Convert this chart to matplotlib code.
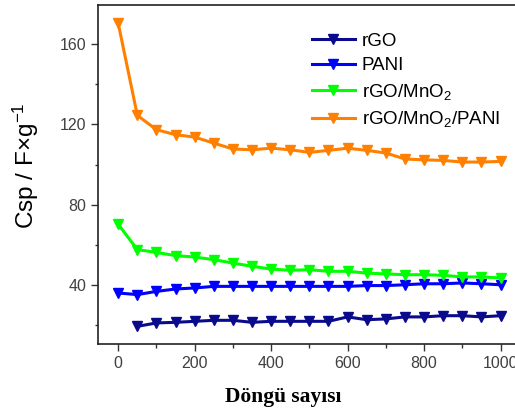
import numpy as np
import matplotlib
matplotlib.use("Agg")
import matplotlib.pyplot as plt
from matplotlib.ticker import MultipleLocator

plt.rcParams.update({'font.family': 'Liberation Sans', 'mathtext.fontset': 'custom',
                     'mathtext.rm': 'Liberation Sans', 'mathtext.it': 'Liberation Sans',
                     'mathtext.default': 'regular'})

# cycle number, every 50 cycles
cycles = list(range(0, 1001, 50))
rgo_cycles = cycles[1:]
rgo = [19.5, 21.2, 21.5, 22.0, 22.5, 22.5, 21.5, 22.0, 22.0, 22.0, 22.0,
       24.2, 22.8, 23.2, 24.2, 24.2, 24.8, 24.8, 24.2, 24.8]
pani = [36.1, 35.3, 36.9, 38.1, 38.6, 39.4, 39.4, 39.4, 39.4, 39.4, 39.4,
        39.4, 39.4, 39.8, 39.8, 40.2, 40.7, 40.7, 41.1, 40.7, 40.2]
rgo_mno2 = [70.3, 57.7, 56.3, 54.7, 54.0, 52.7, 51.0, 49.4, 48.0, 47.4, 47.7,
            46.9, 46.9, 46.0, 45.6, 45.2, 45.2, 44.9, 44.1, 44.1, 43.6]
rgo_mno2_pani = [170.3, 124.5, 117.4, 114.9, 113.7, 110.7, 107.8, 107.4, 108.2, 107.4, 106.1,
                 107.1, 108.2, 107.1, 105.8, 102.8, 102.4, 102.1, 101.3, 101.3, 101.6]
labels = ['rGO', 'PANI', 'rGO/MnO$_2$', 'rGO/MnO$_2$/PANI']
colors = ['#0a0a8c', '#0000ff', '#00ff00', '#ff8000']

fig = plt.figure(figsize=(5.15, 4.12), dpi=100)
ax = fig.add_axes([0.191, 0.165, 0.818, 0.823])

series = [(rgo_cycles, rgo), (cycles, pani), (cycles, rgo_mno2), (cycles, rgo_mno2_pani)]
for (x, y), lab, c in zip(series, labels, colors):
    ax.plot(x, y, color=c, lw=2.2, marker='v', ms=6.5, label=lab)

ax.set_xlim(-52, 1050)
ax.set_ylim(10.7, 179.5)
ax.xaxis.set_major_locator(MultipleLocator(200))
ax.xaxis.set_minor_locator(MultipleLocator(100))
ax.yaxis.set_major_locator(MultipleLocator(40))
ax.yaxis.set_minor_locator(MultipleLocator(20))
ax.tick_params(which='major', direction='out', length=5, width=1, labelsize=11.5,
               colors='#333333', labelcolor='#404040')
ax.tick_params(which='minor', direction='out', length=3, width=1, colors='#333333')
ax.tick_params(axis='y', which='minor', length=2)
ax.spines['right'].set_visible(False)
for s in ['left', 'bottom', 'top']:
    ax.spines[s].set_linewidth(1.2)
    ax.spines[s].set_color('#222222')

ax.set_ylabel('Csp / F×g$^{-1}$', fontsize=17.5)
ax.yaxis.set_label_coords(-0.135, 0.525)
ax.set_xlabel('Döngü sayısı', fontsize=15.5, fontweight='bold', family='Liberation Serif')
ax.xaxis.set_label_coords(0.438, -0.127)

ax.legend(loc='upper left', bbox_to_anchor=(0.466, 0.968), frameon=False, fontsize=13.5,
          handlelength=2.3, numpoints=1, labelspacing=0.4, handletextpad=0.37)

fig.savefig('out.png', dpi=100, facecolor='white')
